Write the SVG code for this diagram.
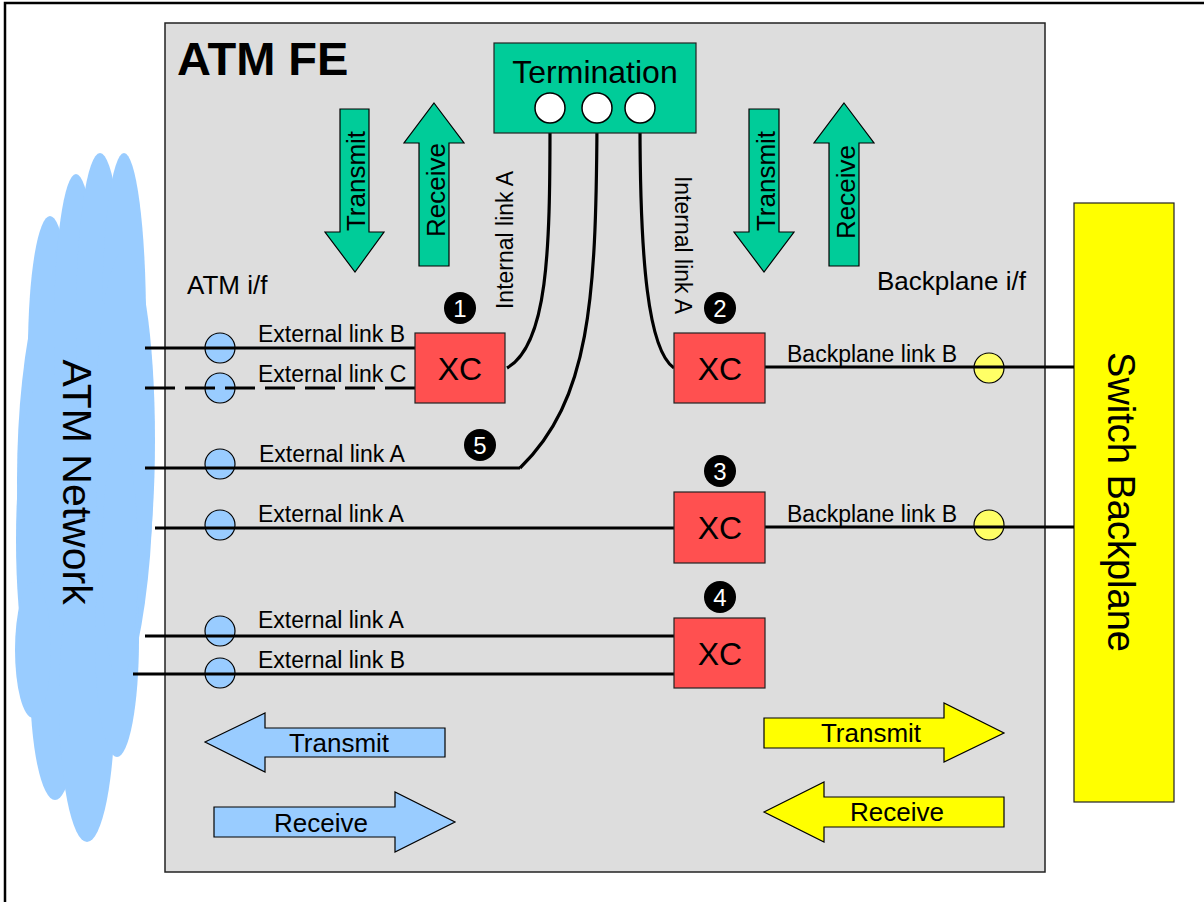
<svg xmlns="http://www.w3.org/2000/svg" width="1204" height="902" viewBox="0 0 1204 902">
  <style>
    text { font-family: "Liberation Sans", Arial, sans-serif; fill: #000; }
    .frame { fill: #fff; stroke: #000; stroke-width: 2.5; }
    .fe { fill: #dddddd; stroke: #222; stroke-width: 1.5; }
    .xc { fill: #ff5050; stroke: #222; stroke-width: 1.2; }
    .xc-t { font-size: 32px; text-anchor: middle; }
    .term { fill: #00cc99; stroke: #222; stroke-width: 1.2; }
    .port { fill: #fff; stroke: #000; stroke-width: 1.5; }
    .atm-port { fill: #99ccff; stroke: #000; stroke-width: 1.2; }
    .bp-port { fill: #ffff66; stroke: #000; stroke-width: 1.2; }
    .link { fill: none; stroke: #000; stroke-width: 3.2; }
    .dash { stroke-dasharray: 30 10; }
    .lbl { font-size: 23px; }
    .ifl { font-size: 26px; }
    .badge { fill: #000; }
    .badge-t { font-size: 24px; fill: #fff; text-anchor: middle; }
    .garrow { fill: #00cc99; stroke: #000; stroke-width: 1.2; }
    .barrow { fill: #99ccff; stroke: #000; stroke-width: 1.2; }
    .yarrow { fill: #ffff00; stroke: #000; stroke-width: 1.2; }
    .arr-t { font-size: 26px; text-anchor: middle; }
    .cloud { fill: #99ccff; }
  </style>

  <!-- page frame -->
  <rect class="frame" x="5" y="3" width="1215" height="915"/>

  <!-- ATM network cloud -->
  <g id="atm-network">
    <g class="cloud">
      <ellipse cx="85" cy="480" rx="68" ry="260"/>
      <ellipse cx="50" cy="350" rx="22" ry="134"/>
      <ellipse cx="76" cy="330" rx="22" ry="156"/>
      <ellipse cx="100" cy="320" rx="24" ry="167"/>
      <ellipse cx="124" cy="320" rx="22" ry="167"/>
      <ellipse cx="125" cy="440" rx="30" ry="190"/>
      <ellipse cx="48" cy="540" rx="32" ry="170"/>
      <ellipse cx="55" cy="680" rx="25" ry="120"/>
      <ellipse cx="87" cy="700" rx="28" ry="142"/>
      <ellipse cx="117" cy="640" rx="22" ry="117"/>
      <ellipse cx="120" cy="560" rx="18" ry="120"/>
      <ellipse cx="33" cy="650" rx="18" ry="68"/>
    </g>
    <text transform="translate(63,482) rotate(90)" font-size="41" text-anchor="middle">ATM Network</text>
  </g>

  <!-- ATM forwarding element -->
  <g id="atm-fe">
    <rect class="fe" x="165" y="23" width="880" height="849"/>
    <text x="177" y="75" font-size="47" font-weight="bold">ATM FE</text>
    <text class="ifl" x="187" y="294">ATM i/f</text>
    <text class="ifl" x="877" y="290">Backplane i/f</text>
  </g>

  <!-- switch backplane -->
  <g id="switch-backplane">
    <rect x="1074" y="203" width="100" height="599" fill="#ffff00" stroke="#222" stroke-width="1.2"/>
    <text transform="translate(1108,502) rotate(90)" font-size="38" text-anchor="middle">Switch Backplane</text>
  </g>

  <!-- direction arrows, top -->
  <g id="arrow-transmit-left">
    <polygon class="garrow" points="340,109 369,109 369,232 384,232 355,272 325,232 340,232"/>
    <text class="arr-t" transform="translate(365,181) rotate(-90)">Transmit</text>
  </g>
  <g id="arrow-receive-left">
    <polygon class="garrow" points="434,103 464,143 449,143 449,266 419,266 419,143 404,143"/>
    <text class="arr-t" transform="translate(445,190) rotate(-90)">Receive</text>
  </g>
  <g id="arrow-transmit-right">
    <polygon class="garrow" points="749,109 779,109 779,232 794,232 764,272 734,232 749,232"/>
    <text class="arr-t" transform="translate(775,181) rotate(-90)">Transmit</text>
  </g>
  <g id="arrow-receive-right">
    <polygon class="garrow" points="844,103 874,143 859,143 859,266 829,266 829,143 814,143"/>
    <text class="arr-t" transform="translate(855,192) rotate(-90)">Receive</text>
  </g>

  <!-- direction arrows, bottom -->
  <g id="arrow-atm-transmit">
    <polygon class="barrow" points="205,742 265,713 265,728 445,728 445,757 265,757 265,772"/>
    <text class="arr-t" x="339" y="752">Transmit</text>
  </g>
  <g id="arrow-atm-receive">
    <polygon class="barrow" points="214,807 395,807 395,792 455,822 395,852 395,837 214,837"/>
    <text class="arr-t" x="321" y="832">Receive</text>
  </g>
  <g id="arrow-bp-transmit">
    <polygon class="yarrow" points="764,718 944,718 944,703 1004,733 944,762 944,748 764,748"/>
    <text class="arr-t" x="871" y="742">Transmit</text>
  </g>
  <g id="arrow-bp-receive">
    <polygon class="yarrow" points="764,812 824,782 824,797 1004,797 1004,827 824,827 824,842"/>
    <text class="arr-t" x="897" y="821">Receive</text>
  </g>

  <!-- interface ports -->
  <g id="atm-ports">
    <circle class="atm-port" cx="220" cy="348" r="15"/>
    <circle class="atm-port" cx="220" cy="388" r="15"/>
    <circle class="atm-port" cx="220" cy="464" r="15"/>
    <circle class="atm-port" cx="220" cy="525" r="15"/>
    <circle class="atm-port" cx="220" cy="631" r="15"/>
    <circle class="atm-port" cx="220" cy="673" r="15"/>
  </g>
  <g id="backplane-ports">
    <circle class="bp-port" cx="989" cy="368" r="15"/>
    <circle class="bp-port" cx="989" cy="525" r="15"/>
  </g>

  <!-- connectors -->
  <g id="connectors">
    <path class="link" d="M145,348 H415"/>
    <path class="link dash" d="M145,388 H415"/>
    <path class="link" d="M145,468 H520"/>
    <path class="link" d="M155,528 H674"/>
    <path class="link" d="M145,636 H674"/>
    <path class="link" d="M133,674 H674"/>
    <path class="link" d="M765,367 H1074"/>
    <path class="link" d="M765,527 H1074"/>
    <path class="link" d="M550,123 C550,250 548,345 507,368"/>
    <path class="link" d="M597,123 C596,300 590,400 520,468"/>
    <path class="link" d="M640,123 C640,260 648,350 674,368"/>
  </g>

  <!-- link labels -->
  <g id="link-labels">
    <text class="lbl" x="258" y="342">External link B</text>
    <text class="lbl" x="258" y="382">External link C</text>
    <text class="lbl" x="259" y="462">External link A</text>
    <text class="lbl" x="258" y="522">External link A</text>
    <text class="lbl" x="258" y="628">External link A</text>
    <text class="lbl" x="258" y="668">External link B</text>
    <text class="lbl" x="787" y="362">Backplane link B</text>
    <text class="lbl" x="787" y="522">Backplane link B</text>
    <text class="lbl" transform="translate(513,240) rotate(-90)" text-anchor="middle">Internal link A</text>
    <text class="lbl" transform="translate(675,245) rotate(90)" text-anchor="middle">Internal link A</text>
  </g>

  <!-- termination point -->
  <g id="termination">
    <rect class="term" x="494" y="43" width="202" height="90"/>
    <text x="595" y="83" font-size="32" text-anchor="middle">Termination</text>
    <circle class="port" cx="550" cy="108" r="15"/>
    <circle class="port" cx="597" cy="108" r="15"/>
    <circle class="port" cx="640" cy="108" r="15"/>
  </g>

  <!-- cross-connects -->
  <g id="xc-1">
    <rect class="xc" x="415" y="333" width="90" height="70"/>
    <text class="xc-t" x="460" y="380">XC</text>
  </g>
  <g id="xc-2">
    <rect class="xc" x="674" y="333" width="91" height="70"/>
    <text class="xc-t" x="720" y="380">XC</text>
  </g>
  <g id="xc-3">
    <rect class="xc" x="674" y="492" width="91" height="71"/>
    <text class="xc-t" x="720" y="539">XC</text>
  </g>
  <g id="xc-4">
    <rect class="xc" x="674" y="618" width="91" height="70"/>
    <text class="xc-t" x="720" y="665">XC</text>
  </g>

  <!-- numbered markers -->
  <g id="badge-1"><circle class="badge" cx="460" cy="308" r="16"/><text class="badge-t" x="460" y="316.5">1</text></g>
  <g id="badge-2"><circle class="badge" cx="720" cy="308" r="16"/><text class="badge-t" x="720" y="316.5">2</text></g>
  <g id="badge-3"><circle class="badge" cx="720" cy="471" r="16"/><text class="badge-t" x="720" y="479.5">3</text></g>
  <g id="badge-4"><circle class="badge" cx="720" cy="597" r="16"/><text class="badge-t" x="720" y="605.5">4</text></g>
  <g id="badge-5"><circle class="badge" cx="480" cy="445" r="16"/><text class="badge-t" x="480" y="453.5">5</text></g>
</svg>
